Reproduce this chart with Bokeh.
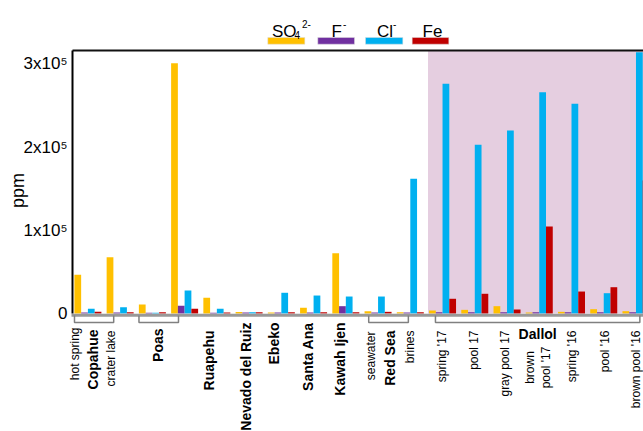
import numpy as np
from bokeh.plotting import figure
from bokeh.models import ColumnDataSource, Range1d, FixedTicker
from bokeh.transform import dodge
from bokeh.core.properties import value
from bokeh.embed import file_html
from bokeh.resources import INLINE

# ---------------- data (ppm) ----------------
samples = ["Copahue hot spring", "Copahue crater lake", "Poas 1", "Poas 2", "Ruapehu",
           "Nevado del Ruiz", "Ebeko", "Santa Ana", "Kawah Ijen", "Red Sea seawater",
           "Red Sea brines", "Dallol spring '17", "Dallol pool 17", "Dallol gray pool 17",
           "Dallol brown pool '17", "Dallol spring '16", "Dallol pool '16", "Dallol brown pool '16"]
so4 = [46500, 67700, 10800, 300800, 18900, 1800, 1200, 6900, 72500, 2700,
       1500, 3600, 4400, 8800, 1200, 2000, 5200, 2800]
fluoride = [1200, 1200, 1000, 9300, 1000, 1200, 1200, 1200, 8800, 1200,
            1200, 1500, 1500, 1500, 1500, 1500, 1500, 1500]
chloride = [5600, 7600, 1000, 27600, 5600, 1500, 24900, 21600, 20400, 20400,
            162000, 276000, 202800, 220000, 266000, 252000, 24400, 314000]
iron = [2000, 1500, 1500, 5600, 1200, 1500, 1500, 1500, 1500, 2000,
        1500, 17700, 23700, 4800, 104600, 26400, 31600, 159900]
y_ticks = [0, 100000, 200000, 300000]
y_tick_labels = ["0", "1x10⁵", "2x10⁵", "3x10⁵"]

# ---------------- layout helpers (window pixels -> data) ----------------
GS = 32.24      # pixels per group
X0 = 87.4       # pixel of first group centre
PPU = 83.2 / 1e5
Y0 = 313.0      # pixel of value 0
WIDTH, HEIGHT = 643, 431


def gx(px):
    return (px - X0) / GS


def vy(py):
    return (Y0 - py) / PPU


YTOP = vy(50)
W = 0.2094
FONT = value("Liberation Sans")

C_SO4, C_F, C_CL, C_FE = "#FFC000", "#7030A0", "#00B0F0", "#C00000"

p = figure(width=WIDTH, height=HEIGHT, output_backend="svg", toolbar_location=None,
           x_range=Range1d(gx(0), gx(WIDTH)), y_range=Range1d(vy(HEIGHT), vy(0)),
           x_axis_location=None, y_axis_location="left",
           min_border_left=0, min_border_right=0, min_border_top=0, min_border_bottom=0,
           outline_line_color=None, background_fill_color="white", border_fill_color="white")
p.grid.visible = False

ax = p.yaxis[0]
ax.fixed_location = gx(72)
ax.ticker = FixedTicker(ticks=y_ticks, minor_ticks=[])
ax.major_label_overrides = {t: l for t, l in zip(y_ticks, y_tick_labels)}
ax.bounds = (0, YTOP)
ax.axis_line_color = "black"
ax.axis_line_width = 2
ax.major_tick_in = 0
ax.major_tick_out = 0
ax.minor_tick_in = 0
ax.minor_tick_out = 0
ax.major_label_standoff = 5
ax.major_label_text_font = "Liberation Sans"
ax.major_label_text_font_size = "17px"
ax.major_label_text_color = "black"

# y axis title
p.text(x=[gx(17)], y=[vy(190)], text=["ppm"], angle=np.pi / 2, text_align="center",
       text_baseline="middle", text_font=FONT, text_font_size="18px", text_color="black")

# Dallol highlight region
p.quad(left=[gx(427.5)], right=[gx(WIDTH + 20)], bottom=[0], top=[YTOP],
       fill_color="#E5CEE0", line_color=None)

src = ColumnDataSource(dict(g=list(range(len(samples))), so4=so4, f=fluoride, cl=chloride, fe=iron))
for k, (col, c) in enumerate([("so4", C_SO4), ("f", C_F), ("cl", C_CL), ("fe", C_FE)]):
    p.vbar(x=dodge("g", (k - 1.5) * W, range=p.x_range), top=col, bottom=0, width=W,
           source=src, fill_color=c, line_color=None)

# frame top line and base line
p.segment(x0=[gx(72)], x1=[gx(WIDTH + 20)], y0=[YTOP], y1=[YTOP], line_color="#111111", line_width=2)
p.segment(x0=[gx(71)], x1=[gx(WIDTH + 20)], y0=[vy(314.7)], y1=[vy(314.7)],
          line_color="#999999", line_width=3)

# brackets
brackets = [(-0.416, 0.80), (1.584, 2.81), (8.71, 9.94), (10.78, 17.12)]
p.multi_line(xs=[[a, a, b, b] for a, b in brackets],
             ys=[[vy(315), vy(322), vy(322), vy(315)] for _ in brackets],
             line_color="#808080", line_width=1.5)

# sample / location labels
bold_labels = [("Copahue", 0.17, 329), ("Poas", 2.17, 328), ("Ruapehu", 3.76, 330),
               ("Nevado del Ruiz", 4.89, 322), ("Ebeko", 5.78, 322), ("Santa Ana", 6.82, 322),
               ("Kawah Ijen", 7.82, 322), ("Red Sea", 9.36, 330)]
reg_labels = [("hot spring", -0.41, 327), ("crater lake", 0.73, 330), ("seawater", 8.77, 331),
              ("brines", 9.98, 330), ("spring '17", 10.97, 330), ("pool 17", 11.97, 330),
              ("gray pool 17", 12.93, 330), ("spring '16", 15.02, 330), ("pool '16", 16.03, 330),
              ("brown pool '16", 17.0, 330)]
p.text(x=[b[1] for b in bold_labels], y=[vy(b[2]) for b in bold_labels], text=[b[0] for b in bold_labels],
       angle=np.pi / 2, text_align="right", text_baseline="middle", text_font=FONT,
       text_font_size="14px", text_font_style="bold", text_color="black")
p.text(x=[b[1] for b in reg_labels], y=[vy(b[2]) for b in reg_labels], text=[b[0] for b in reg_labels],
       angle=np.pi / 2, text_align="right", text_baseline="middle", text_font=FONT,
       text_font_size="12px", text_color="black")
p.text(x=[13.96], y=[vy(367)], text=["brown\npool '17"], angle=np.pi / 2, text_align="center",
       text_baseline="middle", text_font=FONT, text_font_size="12px", text_color="black",
       text_line_height=1.1)
p.text(x=[13.95], y=[vy(333.5)], text=["Dallol"], text_align="center", text_baseline="middle",
       text_font=FONT, text_font_size="14px", text_font_style="bold", text_color="black")

# legend
leg = [(267.3, 304.3, C_SO4), (317.3, 354.0, C_F), (365.0, 402.3, C_CL), (411.7, 448.3, C_FE)]
p.quad(left=[gx(a) for a, b, c in leg], right=[gx(b) for a, b, c in leg],
       bottom=[vy(43.7)] * 4, top=[vy(37)] * 4, fill_color=[c for a, b, c in leg],
       line_color="#dddddd", line_width=0.5)
p.text(x=[gx(271.5), gx(331), gx(376.5), gx(422)], y=[vy(31)] * 4, text=["SO", "F", "Cl", "Fe"],
       text_align="left", text_baseline="alphabetic", text_font=FONT, text_font_size="17px",
       text_color="black")
p.text(x=[gx(294)], y=[vy(34.5)], text=["4"], text_align="left", text_baseline="alphabetic",
       text_font=FONT, text_font_size="10px", text_color="black")
p.text(x=[gx(301.5), gx(342.5), gx(392.5)], y=[vy(23)] * 3, text=["2-", "-", "-"],
       text_align="left", text_baseline="alphabetic", text_font=FONT, text_font_size="10px",
       text_color="black")

open("out.html", "w").write(file_html(p, INLINE))
